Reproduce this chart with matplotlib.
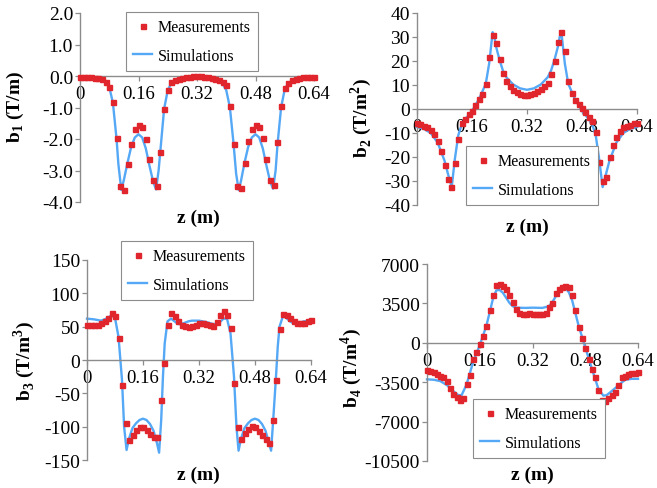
import numpy as np
import matplotlib.pyplot as plt
from matplotlib.lines import Line2D

plt.rcParams['font.family'] = 'Liberation Serif'
plt.rcParams['mathtext.fontset'] = 'custom'
plt.rcParams['mathtext.rm'] = 'Liberation Serif'
plt.rcParams['mathtext.bf'] = 'Liberation Serif:bold'
plt.rcParams['axes.unicode_minus'] = False

W, H = 657, 489
RED = '#e0262c'
BLUE = '#55a8f5'
GREY = '#8c8c8c'

# measurement positions (m)
z_meas = [0.00, 0.01, 0.02, 0.03, 0.04, 0.05, 0.06, 0.07, 0.08, 0.09,
          0.10, 0.11, 0.12, 0.13, 0.14, 0.15, 0.16, 0.17, 0.18, 0.19,
          0.20, 0.21, 0.22, 0.23, 0.24, 0.25, 0.26, 0.27, 0.28, 0.29,
          0.30, 0.31, 0.32, 0.33, 0.34, 0.35, 0.36, 0.37, 0.38, 0.39,
          0.40, 0.41, 0.42, 0.43, 0.44, 0.45, 0.46, 0.47, 0.48, 0.49,
          0.50, 0.51, 0.52, 0.53, 0.54, 0.55, 0.56, 0.57, 0.58, 0.59,
          0.60, 0.61, 0.62, 0.63, 0.64]

b1_meas = [-0.02, -0.02, -0.03, -0.04, -0.05, -0.07, -0.11, -0.18, -0.35, -0.82,
           -1.96, -3.50, -3.62, -2.78, -2.15, -1.67, -1.55, -1.62, -2.00, -2.65,
           -3.30, -3.49, -2.40, -1.05, -0.43, -0.20, -0.12, -0.08, -0.05, -0.03,
           -0.02, -0.01, -0.01, -0.01, -0.02, -0.03, -0.05, -0.08, -0.12, -0.18,
           -0.30, -0.95, -2.15, -3.50, -3.55, -2.75, -2.05, -1.68, -1.55, -1.62,
           -1.98, -2.65, -3.30, -3.45, -2.10, -0.95, -0.38, -0.22, -0.14, -0.09,
           -0.06, -0.04, -0.03, -0.02, -0.02]
z1_sim = [0.00, 0.04, 0.06, 0.07, 0.08, 0.09, 0.10, 0.105, 0.113, 0.12,
          0.13, 0.14, 0.15, 0.16, 0.17, 0.18, 0.19, 0.20, 0.208, 0.215,
          0.22, 0.23, 0.24, 0.25, 0.27, 0.30, 0.32, 0.35, 0.37, 0.38,
          0.39, 0.40, 0.41, 0.42, 0.427, 0.434, 0.44, 0.45, 0.46, 0.47,
          0.48, 0.49, 0.50, 0.51, 0.52, 0.528, 0.535, 0.54, 0.55, 0.56,
          0.57, 0.59, 0.62, 0.64]
b1_sim = [-0.01, -0.04, -0.10, -0.17, -0.35, -0.85, -2.00, -2.80, -3.62, -3.30,
          -2.75, -2.25, -1.95, -1.85, -1.95, -2.30, -2.85, -3.35, -3.60, -3.00,
          -2.35, -1.05, -0.45, -0.22, -0.09, -0.03, -0.02, -0.04, -0.09, -0.14,
          -0.25, -0.45, -1.00, -2.15, -3.10, -3.62, -3.35, -2.75, -2.25, -1.95,
          -1.85, -1.95, -2.30, -2.85, -3.35, -3.58, -3.00, -2.20, -1.00, -0.42,
          -0.22, -0.09, -0.03, -0.02]

b2_meas = [-5.8, -6.4, -7.0, -7.7, -8.9, -10.6, -13.2, -17.5, -23.5, -29.0,
           -32.4, -22.5, -12.5, -6.0, -4.0, -2.2, -0.9, 1.6, 4.1, 6.4,
           10.5, 21.8, 31.0, 27.5, 21.0, 15.1, 11.8, 9.4, 8.0, 7.0,
           6.4, 6.0, 5.8, 6.1, 6.7, 7.3, 8.2, 9.4, 10.8, 14.5,
           20.0, 28.0, 32.0, 24.0, 11.5, 6.5, 3.8, 1.9, 0.4, -1.4,
           -3.4, -5.2, -9.5, -22.0, -30.0, -28.5, -20.0, -14.8, -11.5, -9.0,
           -7.6, -6.9, -6.5, -6.0, -5.8]
z2_sim = [0.00, 0.02, 0.04, 0.06, 0.08, 0.09, 0.101, 0.11, 0.12, 0.13,
          0.14, 0.16, 0.18, 0.20, 0.21, 0.22, 0.225, 0.23, 0.24, 0.25,
          0.26, 0.28, 0.30, 0.32, 0.34, 0.36, 0.38, 0.39, 0.40, 0.41,
          0.415, 0.42, 0.43, 0.44, 0.46, 0.48, 0.50, 0.51, 0.52, 0.53,
          0.54, 0.55, 0.56, 0.58, 0.60, 0.62, 0.64]
b2_sim = [-7.5, -8.3, -10.0, -14.0, -21.5, -27.0, -32.5, -21.0, -11.0, -6.5,
          -4.3, -0.8, 4.0, 10.5, 19.0, 32.0, 30.0, 26.0, 20.5, 16.0,
          13.2, 10.2, 8.6, 8.0, 8.6, 10.2, 13.2, 16.0, 20.5, 26.0,
          30.0, 32.0, 19.0, 10.5, 4.0, -0.8, -4.3, -6.5, -11.0, -21.0,
          -32.5, -27.0, -21.5, -14.0, -10.0, -8.3, -7.5]

b3_meas = [52, 52, 52, 53, 55, 58, 63, 71, 66, 33,
           -38, -95, -120, -113, -105, -101, -100, -105, -111, -115,
           -115, -60, -5, 53, 70, 66, 59, 53, 51, 50,
           51, 52.5, 55, 55, 54, 52, 51, 57, 67, 73,
           68, 48, -35, -100, -118, -109, -104, -99, -100, -106,
           -113, -119, -125, -90, -30, 47, 69, 67, 63, 58.5,
           56, 55, 55, 58, 60]
z3_sim = [0.00, 0.02, 0.04, 0.055, 0.07, 0.08, 0.09, 0.10, 0.106, 0.113,
          0.12, 0.13, 0.14, 0.15, 0.16, 0.17, 0.18, 0.19, 0.20, 0.206,
          0.212, 0.217, 0.222, 0.23, 0.24, 0.25, 0.26, 0.27, 0.28, 0.29,
          0.30, 0.32, 0.34, 0.36, 0.37, 0.38, 0.39, 0.40, 0.41, 0.42,
          0.427, 0.433, 0.44, 0.45, 0.46, 0.47, 0.48, 0.49, 0.50, 0.51,
          0.52, 0.526, 0.532, 0.54, 0.545, 0.55, 0.56, 0.57, 0.58, 0.59,
          0.60, 0.62, 0.64]
b3_sim = [62, 61, 59, 62, 67, 63, 35, -30, -100, -135,
          -118, -102, -95, -90, -88, -90, -96, -106, -125, -139,
          -90, -25, 25, 58, 62, 58, 54, 54, 56, 58,
          59, 59, 57, 54, 54, 57, 62, 62, 40, -25,
          -100, -136, -118, -102, -95, -90, -88, -90, -96, -106,
          -125, -136, -90, -25, 20, 50, 66, 63, 58, 55,
          55, 58, 59]

b4_meas = [-2450, -2520, -2560, -2750, -2930, -3050, -3400, -4050, -4550, -4850,
           -5060, -4900, -3650, -2850, -1480, -860, -100, 600, 1480, 2900,
           4210, 5150, 5250, 5020, 4740, 4260, 3640, 2990, 2680, 2600,
           2580, 2620, 2600, 2530, 2520, 2520, 2680, 3150, 3500, 4450,
           4790, 4940, 5070, 4980, 4250, 2900, 1430, 390, -470, -1450,
           -2300, -3050, -4150, -5050, -5170, -4940, -4660, -4350, -3750, -3080,
           -2940, -2800, -2700, -2650, -2620]
z4_sim = [0.00, 0.02, 0.04, 0.06, 0.08, 0.095, 0.105, 0.12, 0.14, 0.16,
          0.18, 0.20, 0.21, 0.22, 0.23, 0.24, 0.25, 0.26, 0.27, 0.30,
          0.32, 0.35, 0.37, 0.38, 0.39, 0.40, 0.41, 0.42, 0.43, 0.44,
          0.46, 0.48, 0.50, 0.52, 0.535, 0.545, 0.56, 0.58, 0.60, 0.62,
          0.64]
b4_sim = [-3250, -3280, -3400, -3750, -4300, -4650, -4650, -3700, -1700, -200,
          1500, 3900, 4650, 4700, 4450, 4000, 3550, 3250, 3120, 3100,
          3120, 3100, 3250, 3600, 4100, 4500, 4750, 4850, 4500, 3800,
          1500, -400, -2300, -4100, -4700, -4650, -4300, -3800, -3300, -3200,
          -3200]

x_ticks = [0, 0.16, 0.32, 0.48, 0.64]
x_tick_labels = ['0', '0.16', '0.32', '0.48', '0.64']
b1_ticks = [2.0, 1.0, 0.0, -1.0, -2.0, -3.0, -4.0]
b1_tick_labels = ['2.0', '1.0', '0.0', '-1.0', '-2.0', '-3.0', '-4.0']
b2_ticks = [40, 30, 20, 10, 0, -10, -20, -30, -40]
b3_ticks = [150, 100, 50, 0, -50, -100, -150]
b4_ticks = [7000, 3500, 0, -3500, -7000, -10500]

y_names = ['b$_\\mathbf{1}$ (T/m)', 'b$_\\mathbf{2}$ (T/m$^\\mathbf{2}$)',
           'b$_\\mathbf{3}$ (T/m$^\\mathbf{3}$)', 'b$_\\mathbf{4}$ (T/m$^\\mathbf{4}$)']
legend_names = ['Measurements', 'Simulations']


def px_to_fig(x, y):
    return x / W, 1 - y / H


def draw_panel(fig, box, zs, sim, meas, yticks, ylabels, yname, ylab_xy, xlab_xy, leg_xy):
    x0, y0, x1, y1 = box
    ax = fig.add_axes([x0 / W, 1 - y1 / H, (x1 - x0) / W, (y1 - y0) / H])
    ax.plot(zs, sim, color=BLUE, lw=1.7, clip_on=False, zorder=2)
    ax.plot(z_meas, meas, ls='none', marker='s', ms=3.6, color=RED, mec=RED,
            clip_on=False, zorder=3)
    ax.set_xlim(0, 0.64)
    ax.set_ylim(min(yticks), max(yticks))
    ax.set_xticks(x_ticks)
    ax.set_xticklabels(x_tick_labels)
    ax.set_yticks(yticks)
    ax.set_yticklabels(ylabels)
    for s in ['top', 'right']:
        ax.spines[s].set_visible(False)
    ax.spines['bottom'].set_position(('data', 0))
    for s in ['bottom', 'left']:
        ax.spines[s].set_color(GREY)
        ax.spines[s].set_linewidth(1.0)
    ax.tick_params(axis='y', direction='out', length=3.5, width=0.9, color=GREY,
                   labelsize=14, pad=1.5)
    ax.tick_params(axis='x', direction='out', length=3.5, width=0.9, color=GREY,
                   labelsize=13.5, pad=3)

    fx, fy = px_to_fig(*ylab_xy)
    fig.text(fx, fy, yname, rotation=90, ha='center', va='center',
             fontsize=14, fontweight='bold')
    fx, fy = px_to_fig(*xlab_xy)
    fig.text(fx, fy, 'z (m)', ha='center', va='center', fontsize=14, fontweight='bold')

    handles = [Line2D([], [], ls='none', marker='s', ms=3.6, color=RED),
               Line2D([], [], color=BLUE, lw=1.7)]
    leg = ax.legend(handles, legend_names, loc='upper left',
                    bbox_to_anchor=px_to_fig(*leg_xy), bbox_transform=fig.transFigure,
                    borderaxespad=0, fancybox=False, edgecolor=GREY, framealpha=1,
                    fontsize=11.5, handlelength=1.2, handletextpad=0.35,
                    borderpad=0.45, labelspacing=0.8, numpoints=1)
    leg.get_frame().set_linewidth(0.8)
    return ax


fig = plt.figure(figsize=(W / 100, H / 100), dpi=100)

draw_panel(fig, (80, 14, 314, 203), z1_sim, b1_sim, b1_meas, b1_ticks, b1_tick_labels,
           y_names[0], (15, 107), (198, 218), (126, 13))
draw_panel(fig, (417, 14, 637, 206), z2_sim, b2_sim, b2_meas, b2_ticks,
           [str(v) for v in b2_ticks], y_names[1], (361, 118), (527, 227), (466, 147))
draw_panel(fig, (87, 261, 311, 461), z3_sim, b3_sim, b3_meas, b3_ticks,
           [str(v) for v in b3_ticks], y_names[2], (24, 361), (198, 475), (121, 242))
draw_panel(fig, (427, 265, 638, 462), z4_sim, b4_sim, b4_meas, b4_ticks,
           [str(v) for v in b4_ticks], y_names[3], (351, 368), (532, 475), (473, 400))

fig.savefig('out.png', dpi=100)
